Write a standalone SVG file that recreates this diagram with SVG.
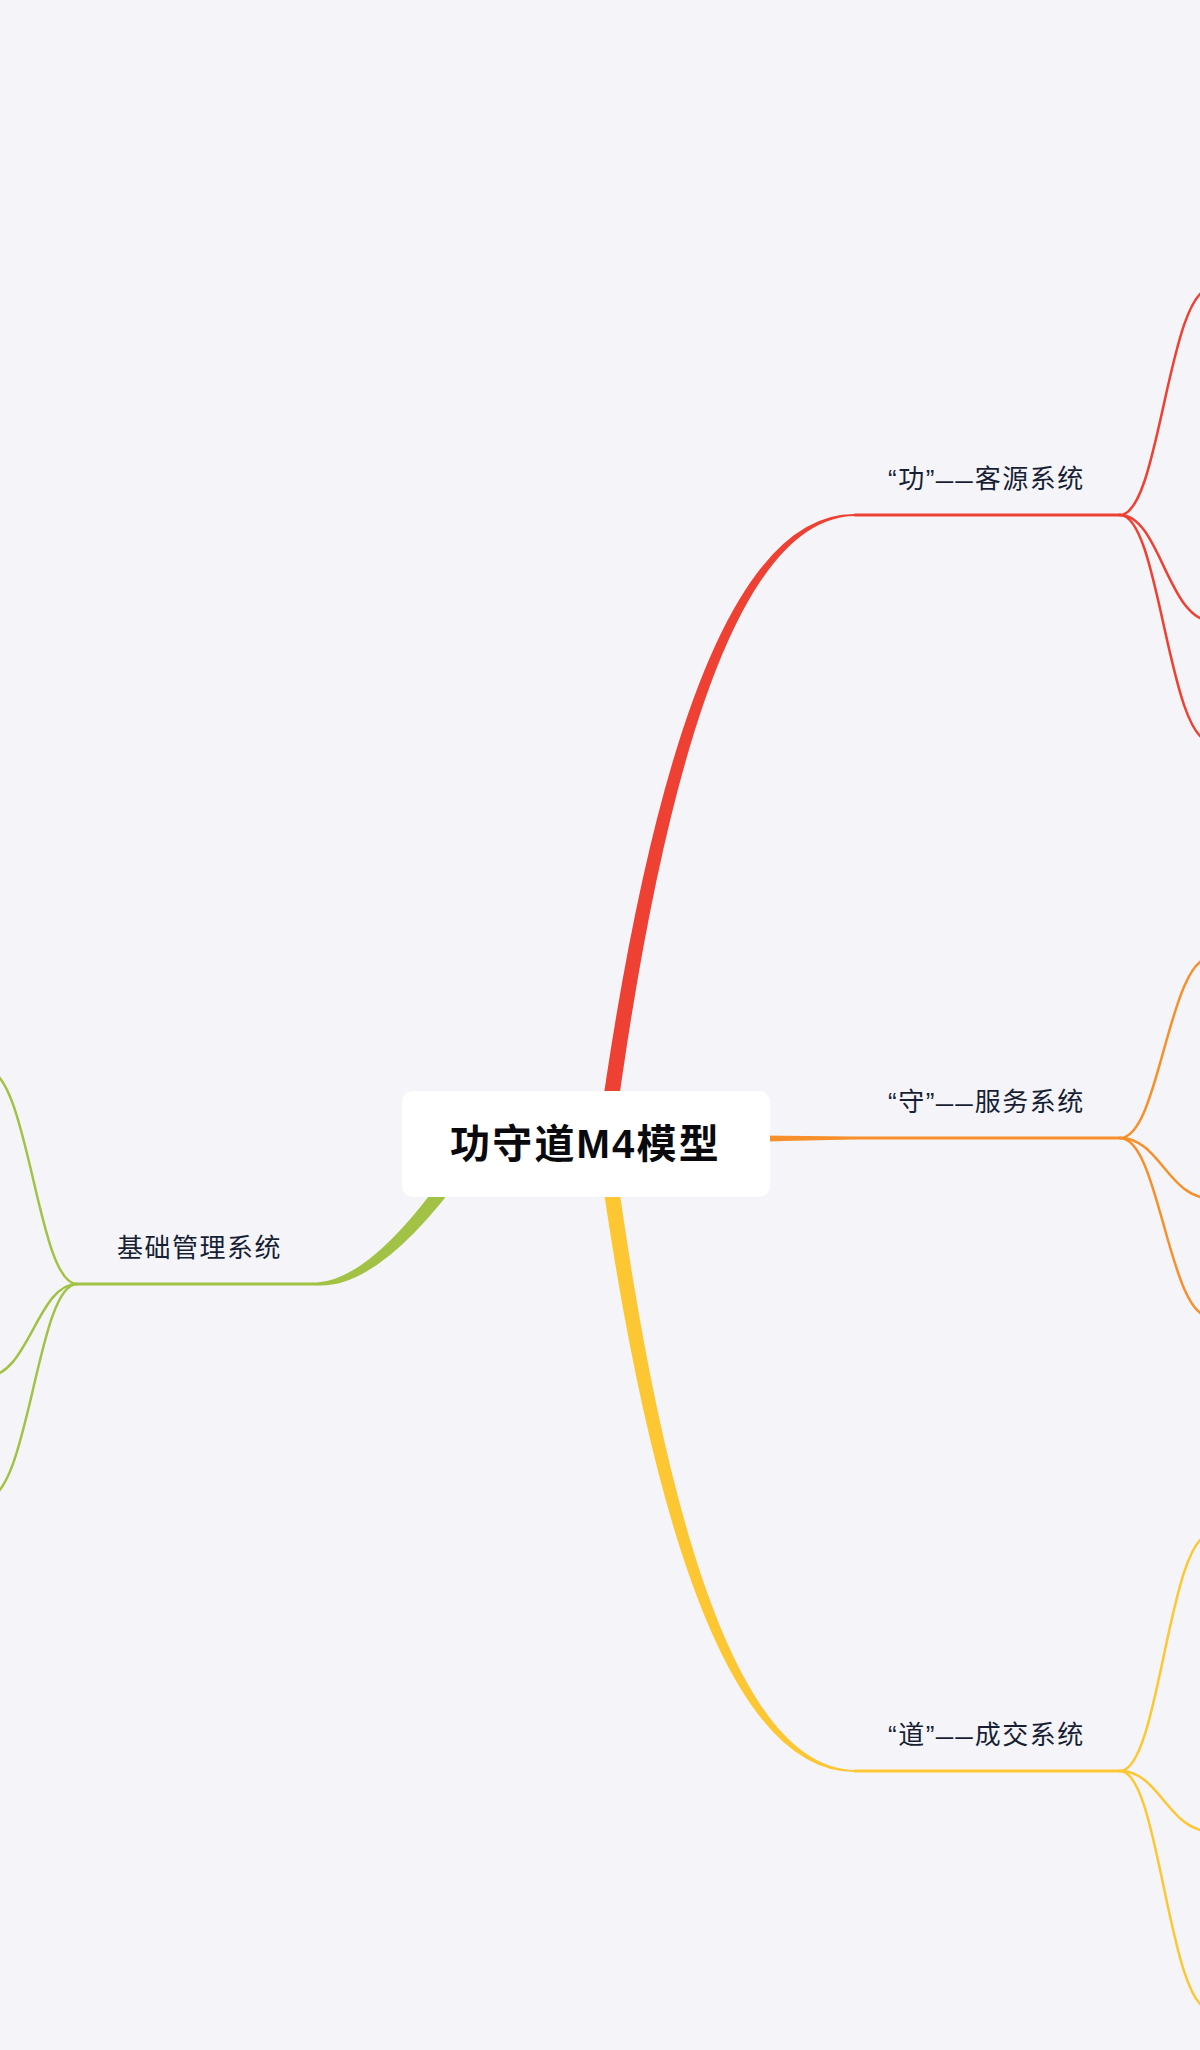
<svg xmlns="http://www.w3.org/2000/svg" width="1200" height="2050" viewBox="0 0 1200 2050">
  <style>
    .bg { fill: #F5F5F9; }
    .root-box { fill: #FFFFFF; }
    .root-text { font-family: "Liberation Sans", "Noto Sans CJK SC", sans-serif; font-size: 40px; font-weight: bold; fill: #0A0A0E; letter-spacing: 2.2px; }
    .label { font-family: "Liberation Sans", "Noto Sans CJK SC", sans-serif; font-size: 26px; fill: #181F35; letter-spacing: 1.5px; }
    .dash { font-size: 17.5px; font-weight: bold; letter-spacing: 2px; }
    .line { fill: none; stroke-linecap: round; }
    .main { stroke-width: 3; }
    .sub { stroke-width: 2.5; }
    .red { stroke: #EF4034; }
    .orange { stroke: #F7902B; }
    .yellow { stroke: #FDC733; }
    .green { stroke: #A1C244; }
    .fred { fill: #EF4034; }
    .forange { fill: #F7902B; }
    .fyellow { fill: #FDC733; }
    .fgreen { fill: #A1C244; }
  </style>
  <rect class="bg" x="0" y="0" width="1200" height="2050"/>

  <g id="connectors">
    <!-- tapered main branches -->
    <path class="fred" d="M597,1143 Q683,512 855,514 L855,516 Q695,518 613,1143 Z"/>
    <path class="forange" d="M605,1133 Q689,1135 855,1136.5 L855,1139.5 Q689,1142 605,1153 Z"/>
    <path class="fyellow" d="M597,1143 Q683,1774 855,1772 L855,1770 Q695,1768 613,1143 Z"/>
    <path class="fgreen" d="M455.9,1158.7 Q374,1279 317,1282.5 L317,1285.5 Q381,1289 468.1,1167.3 Z"/>

    <!-- underlines of main topics -->
    <path class="line main red" d="M855,515 H1120"/>
    <path class="line main orange" d="M855,1138 H1120"/>
    <path class="line main yellow" d="M855,1771 H1120"/>
    <path class="line main green" d="M317,1284 H77"/>

    <!-- sub branches: red -->
    <path class="line sub red" d="M1120,515 C1160,515 1168,287.6 1212,287.6"/>
    <path class="line sub red" d="M1120,515 C1160,515 1168,621 1212,621"/>
    <path class="line sub red" d="M1120,515 C1160,515 1168,742.4 1212,742.4"/>
    <!-- sub branches: orange -->
    <path class="line sub orange" d="M1120,1138 C1160,1138 1168,956.9 1212,956.9"/>
    <path class="line sub orange" d="M1120,1138 C1160,1138 1168,1198.7 1212,1198.7"/>
    <path class="line sub orange" d="M1120,1138 C1160,1138 1168,1318 1212,1318"/>
    <!-- sub branches: yellow -->
    <path class="line sub yellow" d="M1120,1771 C1160,1771 1168,1533.4 1212,1533.4"/>
    <path class="line sub yellow" d="M1120,1771 C1160,1771 1168,1831.7 1212,1831.7"/>
    <path class="line sub yellow" d="M1120,1771 C1160,1771 1168,2010.7 1212,2010.7"/>
    <!-- sub branches: green -->
    <path class="line sub green" d="M77,1284 C37,1284 29,1068.8 -15,1068.8"/>
    <path class="line sub green" d="M77,1284 C37,1284 29,1377 -15,1377"/>
    <path class="line sub green" d="M77,1284 C37,1284 29,1499.2 -15,1499.2"/>
  </g>

  <g id="node-root">
    <rect class="root-box" x="402" y="1091" width="368" height="106" rx="11" ry="11"/>
    <text class="root-text" x="450" y="1158">功守道M4模型</text>
  </g>

  <g id="node-gong">
    <text class="label" x="888" y="488">“功”<tspan class="dash" dy="-1.5">——</tspan><tspan dy="1.5">客源系统</tspan></text>
  </g>

  <g id="node-shou">
    <text class="label" x="888" y="1111">“守”<tspan class="dash" dy="-1.5">——</tspan><tspan dy="1.5">服务系统</tspan></text>
  </g>

  <g id="node-dao">
    <text class="label" x="888" y="1744">“道”<tspan class="dash" dy="-1.5">——</tspan><tspan dy="1.5">成交系统</tspan></text>
  </g>

  <g id="node-jichu">
    <text class="label" x="117" y="1257">基础管理系统</text>
  </g>
</svg>
